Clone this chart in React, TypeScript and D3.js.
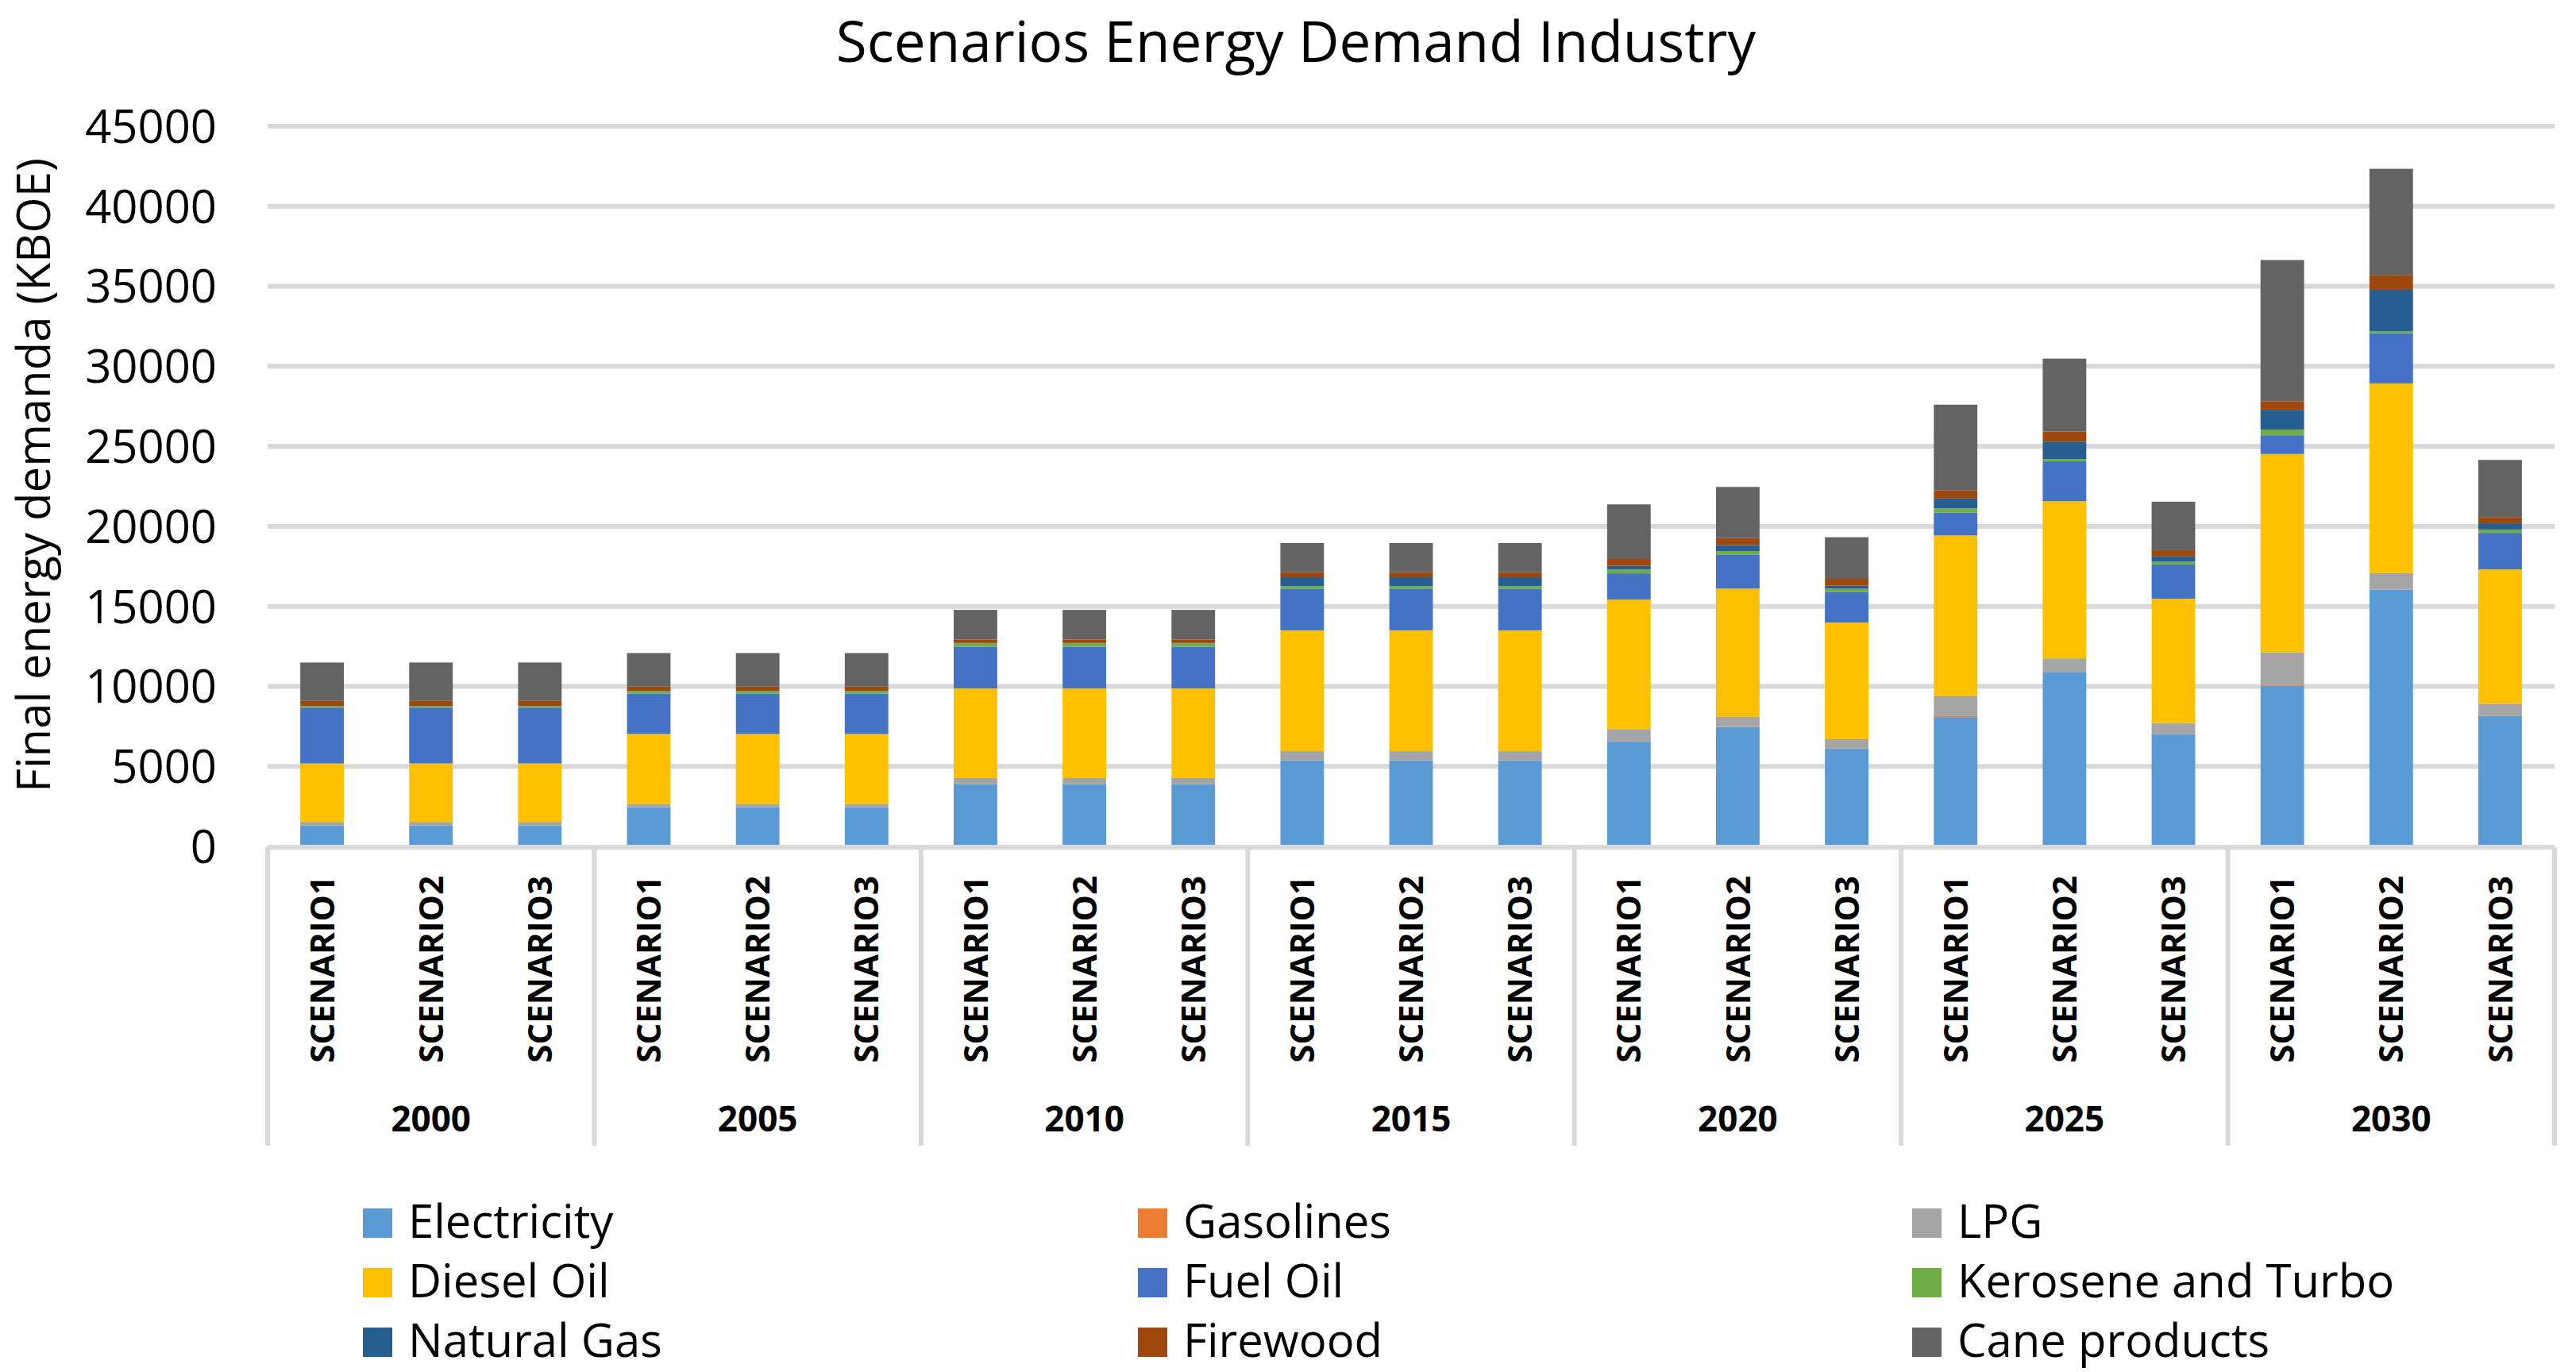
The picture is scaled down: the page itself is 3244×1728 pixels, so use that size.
import * as d3 from 'd3';

const years = ['2000', '2005', '2010', '2015', '2020', '2025', '2030'];
const scenarios = ['SCENARIO1', 'SCENARIO2', 'SCENARIO3'];
const yTicks = [0, 5000, 10000, 15000, 20000, 25000, 30000, 35000, 40000, 45000];

// one value per bar, ordered year by year, scenario 1..3
const electricity = [1290, 1290, 1290, 2440, 2440, 2440, 3870, 3870, 3870, 5360, 5360, 5360, 6550, 7450, 6100, 8080, 10900, 7020, 10050, 16050, 8160];
const gasolines = [10, 10, 10, 10, 10, 10, 10, 10, 10, 10, 10, 10, 10, 10, 10, 60, 10, 10, 60, 10, 10];
const lpg = [230, 230, 230, 200, 200, 200, 390, 390, 390, 580, 580, 580, 770, 630, 590, 1240, 840, 680, 2010, 1020, 740];
const dieselOil = [3650, 3650, 3650, 4370, 4370, 4370, 5600, 5600, 5600, 7550, 7550, 7550, 8090, 8020, 7290, 10050, 9820, 7770, 12400, 11850, 8400];
const fuelOil = [3490, 3490, 3490, 2530, 2530, 2530, 2610, 2610, 2610, 2610, 2610, 2610, 1640, 2130, 1910, 1420, 2490, 2130, 1170, 3150, 2280];
const kerosene = [90, 90, 90, 150, 150, 150, 210, 210, 210, 165, 165, 165, 235, 210, 200, 270, 150, 180, 360, 120, 210];
const naturalGas = [20, 20, 20, 20, 20, 20, 20, 20, 20, 545, 545, 545, 235, 380, 190, 620, 1080, 330, 1230, 2580, 390];
const firewood = [335, 335, 335, 270, 270, 270, 220, 220, 220, 310, 310, 310, 430, 450, 430, 510, 630, 390, 540, 930, 390];
const caneProducts = [2375, 2375, 2375, 2090, 2090, 2090, 1850, 1850, 1850, 1825, 1825, 1825, 3410, 3180, 2600, 5350, 4560, 3030, 8820, 6630, 3570];

const seriesNames = ['Electricity', 'Gasolines', 'LPG', 'Diesel Oil', 'Fuel Oil', 'Kerosene and Turbo', 'Natural Gas', 'Firewood', 'Cane products'];
const seriesValues = [electricity, gasolines, lpg, dieselOil, fuelOil, kerosene, naturalGas, firewood, caneProducts];
const seriesColors = ['#5B9BD5', '#ED7D31', '#A5A5A5', '#FFC000', '#4472C4', '#70AD47', '#255E91', '#9E480E', '#636363'];

const W = 3244;
const H = 1728;
const plot = { left: 337, right: 3217, top: 159, bottom: 1066 };
const font = "'Open Sans', 'Noto Sans', sans-serif";
const grid = '#D9D9D9';

const rows = years.flatMap((year, yi) =>
  scenarios.map((sc, si) => {
    const row: any = { year, scenario: sc };
    seriesNames.forEach((name, k) => {
      row[name] = seriesValues[k][yi * 3 + si];
    });
    return row;
  })
);

const stacked = d3.stack().keys(seriesNames)(rows);

const xYear = d3.scaleBand().domain(years).range([plot.left, plot.right]).padding(0);
const xScen = d3.scaleBand().domain(scenarios).range([0, xYear.bandwidth()]).padding(0);
const y = d3.scaleLinear().domain([0, 45000]).range([plot.bottom, plot.top]);

// Excel gap width 150%
const barW = xScen.bandwidth() / 2.5;
const barX = (d: any) => (xYear(d.year) as number) + (xScen(d.scenario) as number) + (xScen.bandwidth() - barW) / 2;

const legendCols = [457, 1433, 2408];
const legendRows = [1522, 1597, 1672];

const App = () => {
  return (
    <div style={{ position: 'absolute', left: 0, top: 0, width: W, height: H, background: 'white' }}>
      <svg width={W} height={H} style={{ display: 'block', fontFamily: font }}>
        <rect width={W} height={H} fill="white" />
        <text x={1632} y={78} textAnchor="middle" fontSize={71} fill="#000">
          Scenarios Energy Demand Industry
        </text>

        {yTicks.map((t) => (
          <g key={t}>
            {t > 0 && (
              <line x1={plot.left} x2={plot.right} y1={y(t)} y2={y(t)} stroke={grid} strokeWidth={6} />
            )}
            <text x={273} y={y(t)} dy="0.36em" textAnchor="end" fontSize={58} fill="#000">
              {t}
            </text>
          </g>
        ))}

        <text
          transform={`translate(63, ${(plot.top + plot.bottom) / 2 - 14}) rotate(-90)`}
          textAnchor="middle"
          fontSize={58}
          fill="#000"
        >
          Final energy demanda (KBOE)
        </text>

        {stacked.map((s: any, k: number) => (
          <g key={seriesNames[k]} fill={seriesColors[k]}>
            {s.map((d: any, i: number) => (
              <rect
                key={i}
                x={barX(d.data)}
                y={y(d[1])}
                width={barW}
                height={Math.max(0, y(d[0]) - y(d[1]))}
              />
            ))}
          </g>
        ))}

        <line x1={plot.left} x2={plot.right} y1={plot.bottom + 1} y2={plot.bottom + 1} stroke={grid} strokeWidth={6} />
        {years.map((yr) => (
          <line
            key={'sep' + yr}
            x1={xYear(yr) as number}
            x2={xYear(yr) as number}
            y1={plot.bottom + 1}
            y2={1443}
            stroke={grid}
            strokeWidth={6}
          />
        ))}
        <line x1={plot.right} x2={plot.right} y1={plot.bottom + 1} y2={1443} stroke={grid} strokeWidth={6} />

        {rows.map((d: any, i: number) => {
          const cx = (xYear(d.year) as number) + (xScen(d.scenario) as number) + xScen.bandwidth() / 2;
          return (
            <text
              key={'lab' + i}
              transform={`translate(${cx}, 1103) rotate(-90)`}
              textAnchor="end"
              dy="0.36em"
              fontSize={42}
              fontWeight="bold"
              fill="#000"
            >
              {d.scenario}
            </text>
          );
        })}

        {years.map((yr) => (
          <text
            key={'yr' + yr}
            x={(xYear(yr) as number) + xYear.bandwidth() / 2}
            y={1425}
            textAnchor="middle"
            fontSize={44}
            fontWeight="bold"
            fill="#000"
          >
            {yr}
          </text>
        ))}

        {seriesNames.map((name, k) => {
          const lx = legendCols[k % 3];
          const ly = legendRows[Math.floor(k / 3)];
          return (
            <g key={'leg' + name}>
              <rect x={lx} y={ly} width={37} height={37} fill={seriesColors[k]} />
              <text x={lx + 57} y={ly + 37} fontSize={58} fill="#000">
                {name}
              </text>
            </g>
          );
        })}
      </svg>
    </div>
  );
};

export default App;
